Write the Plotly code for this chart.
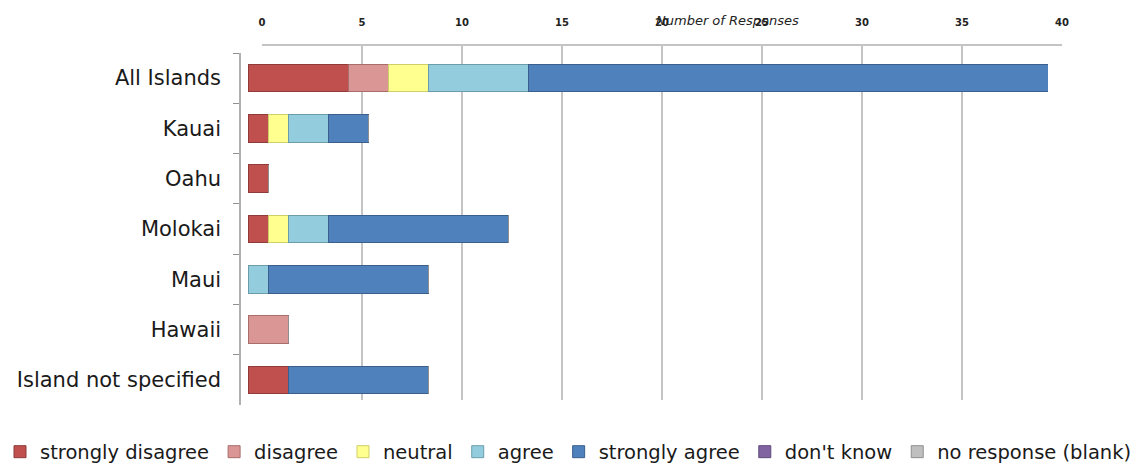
import plotly.graph_objects as go

categories = ["All Islands", "Kauai", "Oahu", "Molokai", "Maui", "Hawaii", "Island not specified"]

strongly_disagree = [5, 1, 1, 1, 0, 0, 2]
disagree = [2, 0, 0, 0, 0, 2, 0]
neutral = [2, 1, 0, 1, 0, 0, 0]
agree = [5, 2, 0, 2, 1, 0, 0]
strongly_agree = [26, 2, 0, 9, 8, 0, 7]
dont_know = [0, 0, 0, 0, 0, 0, 0]
no_response = [0, 0, 0, 0, 0, 0, 0]

series = [
    ("strongly disagree", strongly_disagree, "#C0504D", "#8E3B39"),
    ("disagree", disagree, "#D99694", "#A86E6C"),
    ("neutral", neutral, "#FFFF8F", "#CFCF6A"),
    ("agree", agree, "#93CDDD", "#6C9DAB"),
    ("strongly agree", strongly_agree, "#4F81BD", "#3A5F8C"),
    ("don't know", dont_know, "#8064A2", "#5E4A78"),
    ("no response (blank)", no_response, "#BFBFBF", "#8F8F8F"),
]

x_ticks = [0, 5, 10, 15, 20, 25, 30, 35, 40]

FONT = "DejaVu Sans"
W, H = 1142, 464
ML, MR, MT, MB = 0, 0, 40, 50
PW = W - ML - MR
PH = H - MT - MB


def xd(px):
    return (px - ML) / PW


def yd(px):
    return (H - MB - px) / PH


fig = go.Figure()

# invisible trace to create the back-wall grid subplot (x/y)
fig.add_trace(go.Scatter(x=[None], y=[None], xaxis="x", yaxis="y",
                         showlegend=False, hoverinfo="skip"))

for name, vals, color, edge in series:
    fig.add_trace(go.Bar(
        y=categories, x=vals, name=name, orientation="h",
        marker=dict(color=color, line=dict(color=edge, width=1)),
        xaxis="x2", yaxis="y2",
    ))

fig.update_layout(
    width=W, height=H,
    margin=dict(l=ML, r=MR, t=MT, b=MB),
    paper_bgcolor="white", plot_bgcolor="rgba(0,0,0,0)",
    barmode="stack", bargap=0.45,
    font=dict(family=FONT, color="#1a1a1a"),
    xaxis=dict(
        domain=[xd(262), xd(1062)], range=[0, 40], side="top",
        tickvals=x_ticks, showgrid=True, gridcolor="#c4c4c4", gridwidth=1.8,
        showline=True, linecolor="#c4c4c4", linewidth=1.8,
        zeroline=False, ticks="", ticklabelstandoff=14,
        tickfont=dict(size=10, family=FONT, weight="bold", color="#222"),
        anchor="y", fixedrange=True, automargin=False,
    ),
    yaxis=dict(
        domain=[yd(400), yd(46)], range=[0, 1], showgrid=False,
        showticklabels=False, zeroline=False, anchor="x", fixedrange=True,
    ),
    xaxis2=dict(
        domain=[xd(241), xd(1048)], range=[-0.35, 40],
        showgrid=False, showticklabels=False, zeroline=False,
        anchor="y2", fixedrange=True,
    ),
    yaxis2=dict(
        domain=[yd(405), yd(53)], categoryorder="array",
        categoryarray=categories, autorange="reversed",
        showline=True, linecolor="#b0b0b0", linewidth=1.5,
        ticks="outside", ticklen=6, tickcolor="#909090", tickson="boundaries",
        ticklabelstandoff=14,
        tickfont=dict(size=21, family=FONT, color="#1a1a1a"),
        anchor="x2", fixedrange=True, automargin=False,
    ),
    legend=dict(
        orientation="h", x=0, xanchor="left", xref="paper",
        yref="container", y=(H - 452) / H, yanchor="middle",
        font=dict(size=19.5, family=FONT, color="#1a1a1a"),
        traceorder="normal", itemwidth=30, tracegroupgap=0,
    ),
    annotations=[dict(
        text="<i>Number of Responses</i>", x=xd(727), y=yd(20),
        xref="paper", yref="paper", xanchor="center", yanchor="middle",
        showarrow=False,
        font=dict(size=13, family=FONT, color="#222"),
    )],
)

fig.write_html("out.html")
